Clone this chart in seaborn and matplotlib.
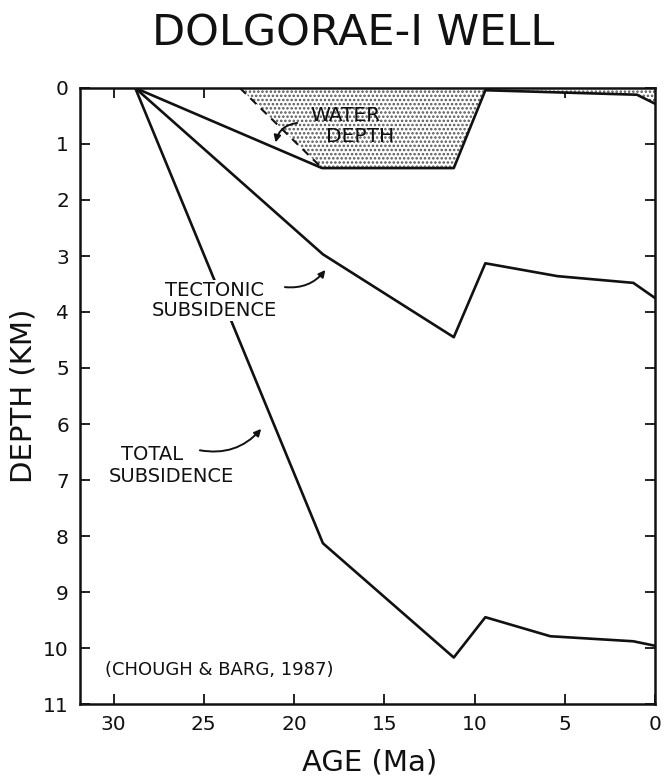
import matplotlib
matplotlib.use("Agg")
import matplotlib.pyplot as plt
import seaborn as sns
import pandas as pd

# ----------------------------
# data (age in Ma, depth in km)
# ----------------------------
total_age = [28.8, 18.4, 11.15, 9.4, 5.8, 1.2, 0.0]
total_depth = [0.0, 8.13, 10.17, 9.45, 9.79, 9.88, 9.96]

tect_age = [28.8, 18.4, 11.15, 9.4, 5.4, 1.2, 0.0]
tect_depth = [0.0, 2.97, 4.45, 3.13, 3.36, 3.48, 3.75]

water_age = [28.8, 18.45, 11.15, 9.4, 1.0, 0.0]
water_depth = [0.0, 1.43, 1.43, 0.04, 0.12, 0.28]

# dashed edge of the water-depth area
dash_age = [23.0, 18.45]
dash_depth = [0.0, 1.43]

x_ticks = [30, 25, 20, 15, 10, 5, 0]
y_ticks = list(range(0, 12))

sns.set_style("ticks")
plt.rcParams['font.family'] = ['DejaVu Sans']
plt.rcParams['hatch.linewidth'] = 1.2

INK = '#111111'

fig = plt.figure(figsize=(6.64, 7.78), dpi=100)
ax = fig.add_axes([80/664, 1 - 704/778, 575/664, 616/778])

# shaded water column: between sea level and the water line, cut by the dashed line
poly_x = [dash_age[0]] + water_age[1:] + [0.0]
poly_y = [0.0] + water_depth[1:] + [0.0]
ax.fill(poly_x, poly_y, facecolor='white', edgecolor='#555555', linewidth=0,
        hatch='....', zorder=1)

df_total = pd.DataFrame({'age': total_age, 'depth': total_depth})
df_tect = pd.DataFrame({'age': tect_age, 'depth': tect_depth})
df_water = pd.DataFrame({'age': water_age, 'depth': water_depth})

for d in [df_total, df_tect, df_water]:
    sns.lineplot(data=d, x='age', y='depth', sort=False, estimator=None,
                 color=INK, linewidth=1.9, ax=ax, zorder=3)
ax.plot(dash_age, dash_depth, color=INK, linewidth=1.5, linestyle=(0, (4, 3)), zorder=3)

ax.set_xlim(31.86, 0)
ax.set_ylim(11, 0)
ax.set_xticks(x_ticks)
ax.set_yticks(y_ticks)
ax.tick_params(direction='in', length=7, width=1.3, top=True, right=True,
               labelsize=14.5, pad=8, colors=INK)
for s in ax.spines.values():
    s.set_linewidth(1.8)
    s.set_color(INK)

ax.set_xlabel('')
ax.set_ylabel('DEPTH (KM)', fontsize=21, labelpad=4, color=INK)

fig.text(353/664, 1 - 33/778, 'DOLGORAE-I WELL', ha='center', va='center',
         fontsize=31, color=INK)
fig.text(370/664, 1 - 762/778, 'AGE (Ma)', ha='center', va='center',
         fontsize=21, color=INK)

# labels
ax.text(17.17, 0.5, 'WATER', ha='center', va='center', fontsize=14.5, color=INK, zorder=4)
ax.text(16.34, 0.86, 'DEPTH', ha='center', va='center', fontsize=14.5, color=INK, zorder=4)
ax.annotate('', xy=(21.05, 1.02), xytext=(19.67, 0.62),
            arrowprops=dict(arrowstyle='-|>', color=INK, lw=1.4,
                            connectionstyle='arc3,rad=0.4'), zorder=4)

ax.text(24.4, 3.79, 'TECTONIC\nSUBSIDENCE', ha='center', va='center', fontsize=14,
        linespacing=1.05, color=INK, zorder=4,
        bbox=dict(facecolor='white', edgecolor='none', pad=1))
ax.annotate('', xy=(18.17, 3.21), xytext=(20.66, 3.55),
            arrowprops=dict(arrowstyle='-|>', color=INK, lw=1.4,
                            connectionstyle='arc3,rad=0.3'), zorder=4)

ax.text(27.87, 6.55, 'TOTAL', ha='center', va='center', fontsize=14, color=INK, zorder=4)
ax.text(26.81, 6.93, 'SUBSIDENCE', ha='center', va='center', fontsize=14, color=INK, zorder=4)
ax.annotate('', xy=(21.72, 6.05), xytext=(25.37, 6.46),
            arrowprops=dict(arrowstyle='-|>', color=INK, lw=1.4,
                            connectionstyle='arc3,rad=0.3'), zorder=4)

ax.text(30.47, 10.39, '(CHOUGH & BARG, 1987)', ha='left', va='center', fontsize=13, color=INK)

fig.savefig('out.png', dpi=100)
